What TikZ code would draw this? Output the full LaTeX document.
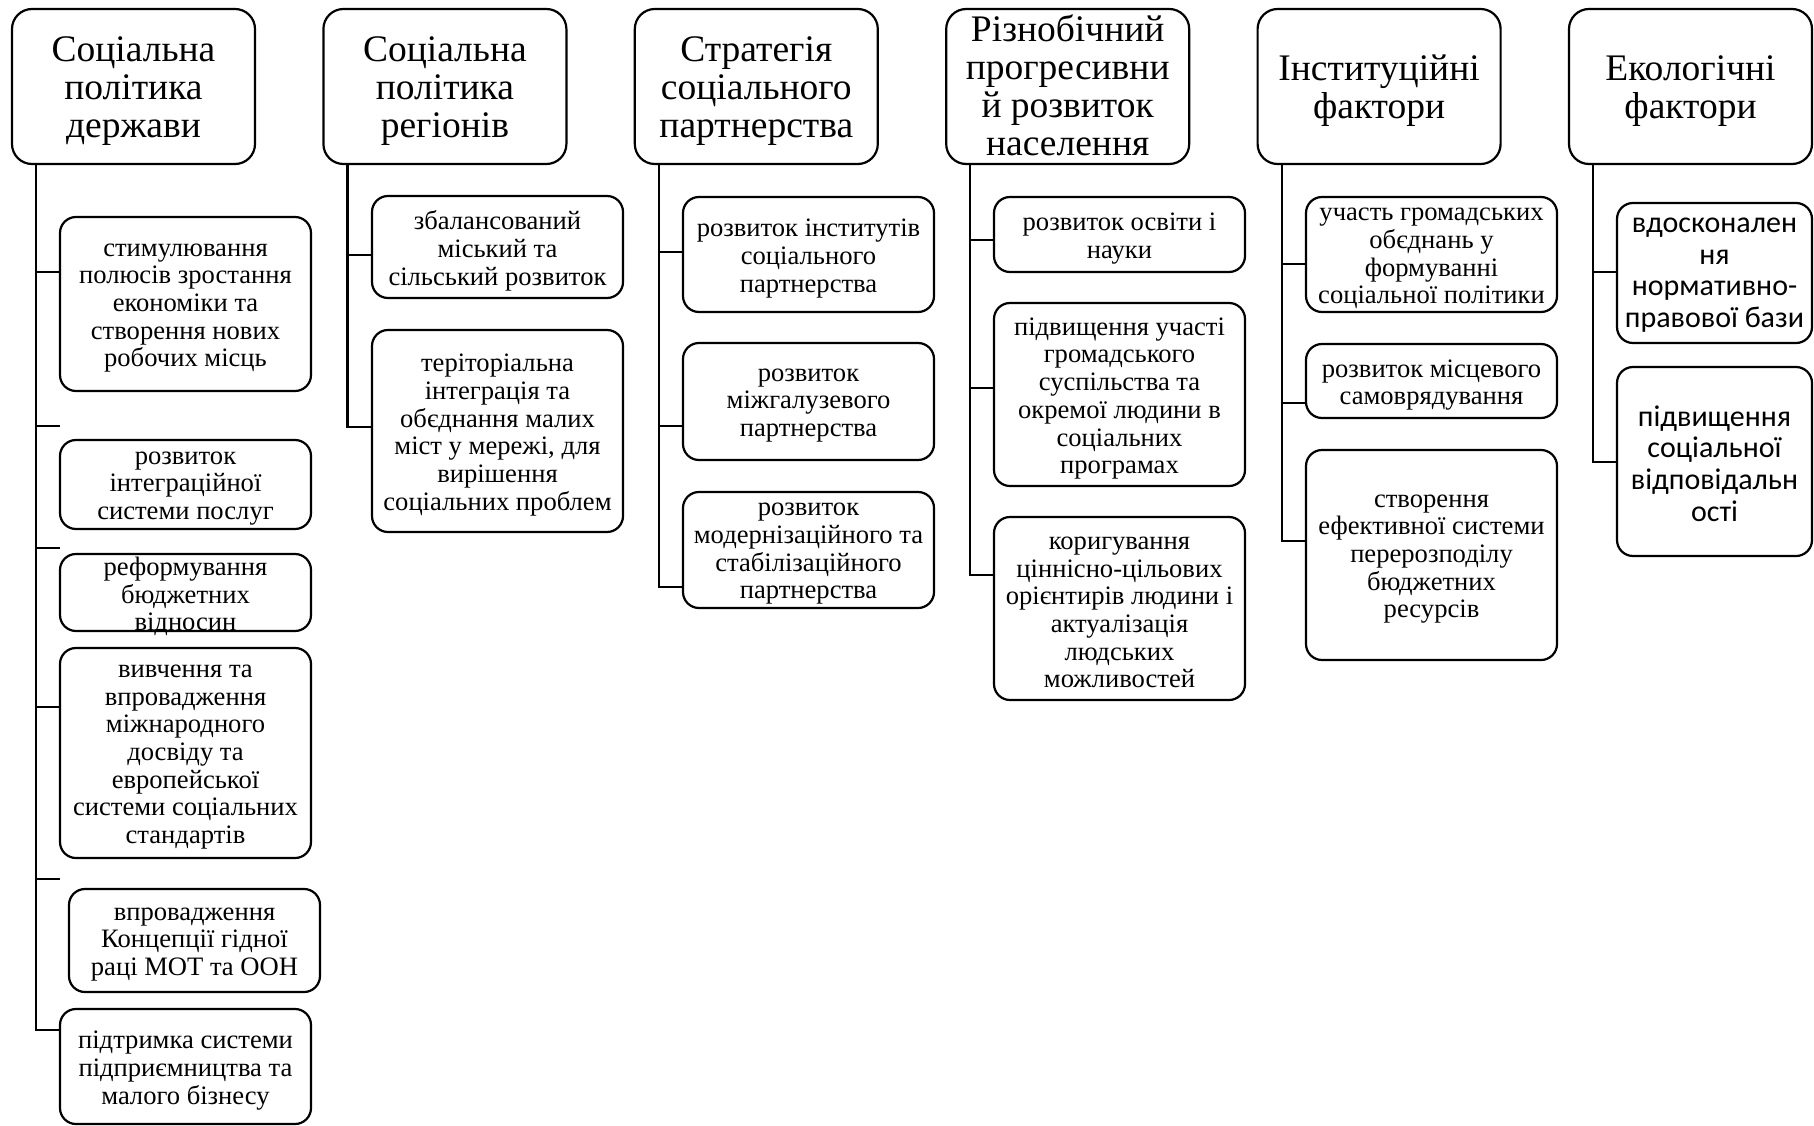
\documentclass[tikz,border=0pt]{standalone}
\usepackage{fontspec}
\setmainfont{Liberation Serif}
\newfontfamily\serf{Liberation Serif}
\newfontfamily\sansf{Carlito}
\usetikzlibrary{calc}
\tikzset{
  hbox/.style={draw, line width=2.2pt, rounded corners=20pt, inner sep=0pt},
  cbox/.style={draw, line width=2.2pt, rounded corners=16pt, inner sep=0pt},
  htxt/.style={align=center, inner sep=0pt, font=\serf\fontsize{37.5}{38}\selectfont},
  txt/.style={align=center, inner sep=0pt, yshift=-4pt, font=\serf\fontsize{26.6}{27.7}\selectfont},
  stxt/.style={align=center, inner sep=0pt, yshift=-2pt, font=\sansf\fontsize{30}{31.6}\selectfont},
  conn/.style={line width=2.2pt}
}
% name, left, top, right, bottom, text style, text
\newcommand\mybox[7]{%
  \node[cbox, minimum width={(#4-#2)*1pt}, minimum height={(#5-#3)*1pt}] (#1) at ({(#2+#4)/2},{(#3+#5)/2}) {};
  \node[#6] (#1-t) at (#1.center) {#7};
}
\newcommand\myhead[4]{% name, left, text yshift, text
  \node[hbox, minimum width=243pt, minimum height=155pt] (#1) at ({#2+121.5},86.5) {};
  \node[htxt, yshift=#3] (#1-t) at (#1.center) {#4};
  \coordinate (#1-tr) at ({#2+24},164);
}
\begin{document}
\begin{tikzpicture}[x=1pt,y=-1pt]
\useasboundingbox (0,0) rectangle (1814,1126);
% headers
\myhead{h1}{12}{-4.5pt}{Соціальна\\політика\\держави}
\myhead{h2}{323.4}{-4.5pt}{Соціальна\\політика\\регіонів}
\myhead{h3}{634.8}{-4.5pt}{Стратегія\\соціального\\партнерства}
\myhead{h4}{946.2}{1.5pt}{Різнобічний\\прогресивни\\й розвиток\\населення}
\myhead{h5}{1257.6}{-4.5pt}{Інституційні\\фактори}
\myhead{h6}{1569}{-4.5pt}{Екологічні\\фактори}
% column 1
\mybox{c1a}{60}{217}{311}{391}{txt}{стимулювання\\полюсів зростання\\економіки та\\створення нових\\робочих місць}
\mybox{c1b}{60}{440}{311}{529}{txt}{розвиток\\інтеграційної\\системи послуг}
\mybox{c1c}{60}{554}{311}{631}{txt}{реформування\\бюджетних\\відносин}
\mybox{c1d}{60}{648}{311}{858}{txt}{вивчення та\\впровадження\\міжнародного\\досвіду та\\европейської\\системи соціальних\\стандартів}
\mybox{c1e}{69}{889}{320}{992}{txt}{впровадження\\Концепції гідної\\раці МОТ та ООН}
\mybox{c1f}{60}{1009}{311}{1124}{txt}{підтримка системи\\підприємництва та\\малого бізнесу}
\coordinate (d1) at (60,426);
\coordinate (d2) at (60,548);
\coordinate (d3) at (60,879);
\draw[conn] (h1-tr) -- (h1-tr |- 0,1030) -- (c1f.west |- 0,1030);
\draw[conn] (h1-tr |- 0,272) -- (c1a.west |- 0,272);
\draw[conn] (h1-tr |- d1) -- (d1);
\draw[conn] (h1-tr |- d2) -- (d2);
\draw[conn] (h1-tr |- 0,707) -- (c1d.west |- 0,707);
\draw[conn] (h1-tr |- d3) -- (d3);
% column 2
\mybox{c2a}{372}{196}{623}{298}{txt}{збалансований\\міський та\\сільський розвиток}
\mybox{c2b}{372}{330}{623}{532}{txt}{теріторіальна\\інтеграція та\\обєднання малих\\міст у мережі, для\\вирішення\\соціальних проблем}
\draw[conn] (h2-tr) -- (h2-tr |- 0,427) -- (c2b.west |- 0,427);
\draw[conn] (h2-tr |- 0,255) -- (c2a.west |- 0,255);
% column 3
\mybox{c3a}{683}{197}{934}{312}{txt}{розвиток інститутів\\соціального\\партнерства}
\mybox{c3b}{683}{343}{934}{460}{txt}{розвиток\\міжгалузевого\\партнерства}
\mybox{c3c}{683}{492}{934}{608}{txt}{розвиток\\модернізаційного та\\стабілізаційного\\партнерства}
\draw[conn] (h3-tr) -- (h3-tr |- 0,587) -- (c3c.west |- 0,587);
\draw[conn] (h3-tr |- 0,252) -- (c3a.west |- 0,252);
\draw[conn] (h3-tr |- 0,426) -- (c3b.west |- 0,426);
% column 4
\mybox{c4a}{994}{197}{1245}{272}{txt}{розвиток освіти і\\науки}
\mybox{c4b}{994}{303}{1245}{486}{txt}{підвищення участі\\громадського\\суспільства та\\окремої людини в\\соціальних\\програмах}
\mybox{c4c}{994}{517}{1245}{700}{txt}{коригування\\ціннісно-цільових\\орієнтирів людини і\\актуалізація\\людських\\можливостей}
\draw[conn] (h4-tr) -- (h4-tr |- 0,575) -- (c4c.west |- 0,575);
\draw[conn] (h4-tr |- 0,240) -- (c4a.west |- 0,240);
\draw[conn] (h4-tr |- 0,388) -- (c4b.west |- 0,388);
% column 5
\mybox{c5a}{1306}{197}{1557}{312}{txt}{участь громадських\\обєднань у\\формуванні\\соціальної політики}
\mybox{c5b}{1306}{344}{1557}{418}{txt}{розвиток місцевого\\самоврядування}
\mybox{c5c}{1306}{450}{1557}{660}{txt}{створення\\ефективної системи\\перерозподілу\\бюджетних\\ресурсів}
\draw[conn] (h5-tr) -- (h5-tr |- 0,541) -- (c5c.west |- 0,541);
\draw[conn] (h5-tr |- 0,264) -- (c5a.west |- 0,264);
\draw[conn] (h5-tr |- 0,403) -- (c5b.west |- 0,403);
% column 6
\mybox{c6a}{1617}{203}{1812}{343}{stxt}{вдосконален\\ня\\нормативно-\\правової бази}
\mybox{c6b}{1617}{367}{1812}{556}{stxt}{підвищення\\соціальної\\відповідальн\\ості}
\draw[conn] (h6-tr) -- (h6-tr |- 0,462) -- (c6b.west |- 0,462);
\draw[conn] (h6-tr |- 0,272) -- (c6a.west |- 0,272);
\end{tikzpicture}
\end{document}
